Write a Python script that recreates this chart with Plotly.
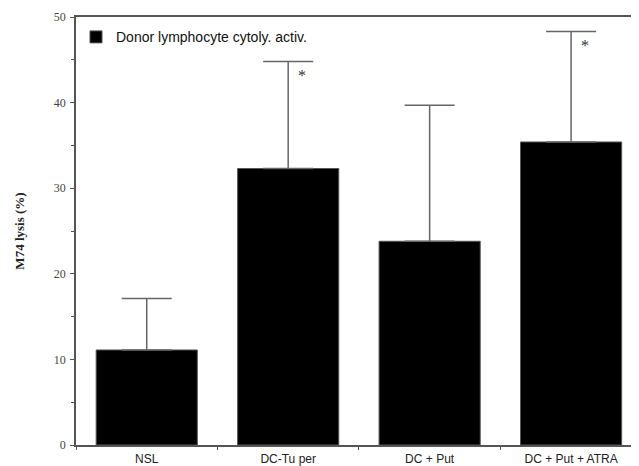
import plotly.graph_objects as go

categories = ["NSL", "DC-Tu per", "DC + Put", "DC + Put + ATRA"]
lysis = [11.1, 32.3, 23.8, 35.4]
err_plus = [6.0, 12.5, 15.9, 12.9]
significant = [False, True, False, True]
series_name = "Donor lymphocyte cytoly. activ."
y_ticks = [0, 10, 20, 30, 40, 50]

fig = go.Figure()
fig.add_trace(go.Bar(
    x=categories, y=lysis, name=series_name, width=0.715,
    marker=dict(color="black", line=dict(color="#555", width=1)),
    error_y=dict(type="data", symmetric=False, array=err_plus,
                 arrayminus=[0] * len(err_plus), color="#666",
                 thickness=1.5, width=25),
    showlegend=True,
))

for c, v, e, s in zip(categories, lysis, err_plus, significant):
    if s:
        fig.add_annotation(x=c, y=v + e, text="*", showarrow=False,
                           xshift=14, yshift=-14,
                           font=dict(family="Liberation Serif", size=16, color="#333"))

fig.update_layout(
    width=631, height=458,
    margin=dict(l=68, r=0, t=9, b=21, autoexpand=False),
    plot_bgcolor="white", paper_bgcolor="white",
    showlegend=True,
    legend=dict(x=0.0, y=0.99, xanchor="left", yanchor="top",
                bgcolor="rgba(0,0,0,0)",
                font=dict(family="Liberation Sans", size=14, color="#111")),
    xaxis=dict(range=[-0.5, 3.48], showline=True, linecolor="#555", linewidth=1.5,
               mirror=True, ticks="outside", tickson="boundaries", ticklen=3,
               tickcolor="#555", showgrid=False, ticklabelstandoff=2,
               automargin=False,
               tickfont=dict(family="Liberation Sans", size=12, color="#222")),
    yaxis=dict(range=[0, 50], tickvals=y_ticks, showline=True, linecolor="#555",
               linewidth=1.5, ticks="outside", ticklen=4, tickcolor="#555",
               showgrid=False, zeroline=False, ticklabelstandoff=2,
               automargin=False,
               minor=dict(dtick=5, ticks="outside", ticklen=3, tickcolor="#555"),
               tickfont=dict(family="Liberation Serif", size=12, color="#444"),
               title=dict(text="<b>M74 lysis (%)</b>", standoff=26,
                          font=dict(family="Liberation Serif", size=13, color="#222"))),
)

fig.write_html("out.html")
